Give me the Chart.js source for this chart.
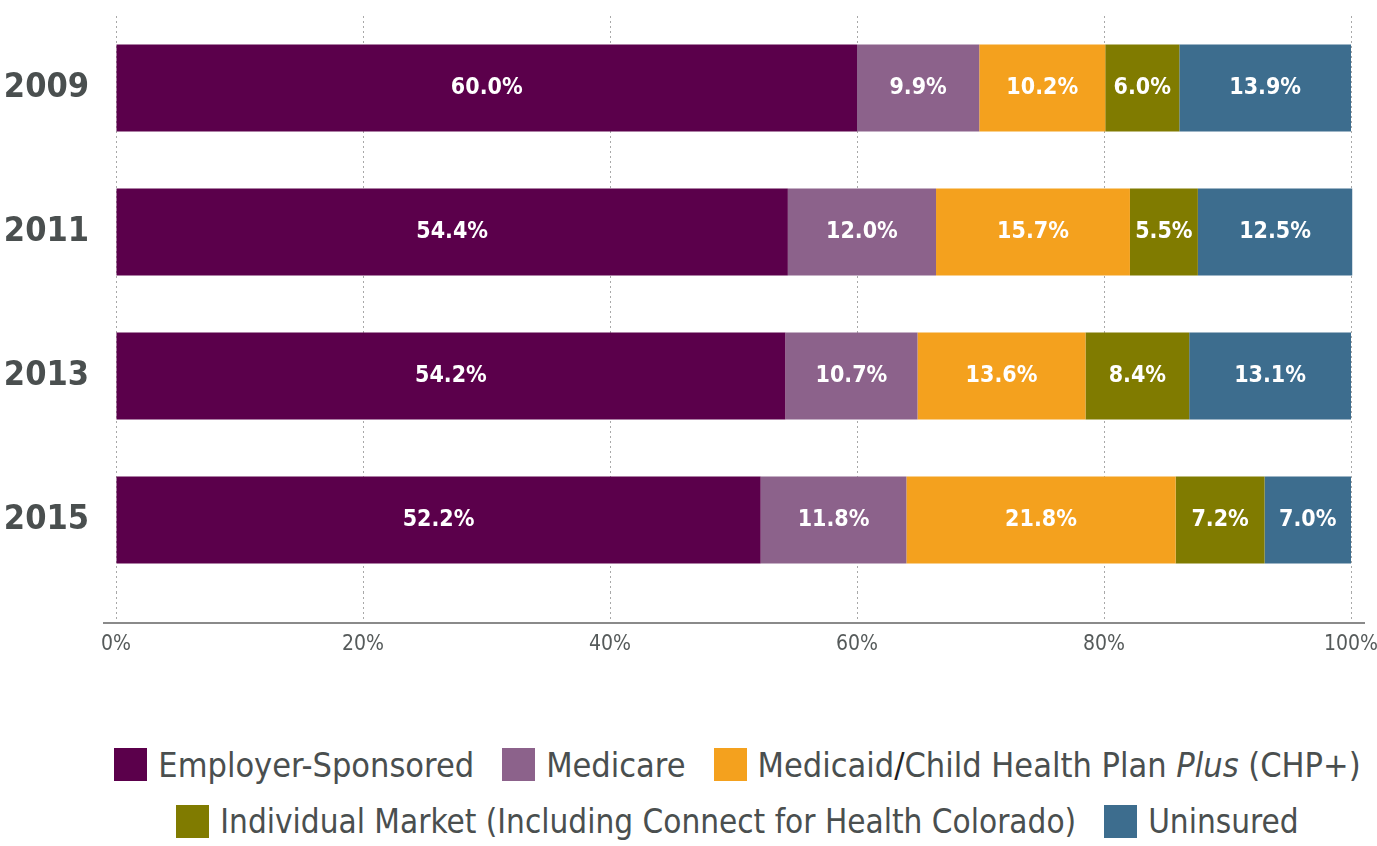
<!DOCTYPE html>
<html>
<head>
<meta charset="utf-8">
<script src="https://cdn.jsdelivr.net/npm/chart.js@4.4.1/dist/chart.umd.min.js"></script>
<style>
  body { margin: 0; background: #fff; font-family: "DejaVu Sans Condensed", sans-serif; }
  #wrap { position: relative; width: 1377px; height: 846px; }
  #legend { position: absolute; left: 0; top: 736px; width: 1377px; box-sizing: border-box; padding-left: 98px; }
  .row { display: flex; justify-content: center; align-items: center; height: 57px; }
  .item { display: flex; align-items: center; margin: 0 14px; color: #4a4f4f; font-size: 34px; white-space: nowrap; }
  .row2 .item { font-size: 33px; }
  .box { width: 33px; height: 33px; margin-right: 11px; }
</style>
</head>
<body>
<div id="wrap">
  <canvas id="chart" width="1377" height="690"></canvas>
  <div id="legend"></div>
</div>
<script>
"use strict"

const years = ['2009', '2011', '2013', '2015'];
const employer = [60.0, 54.4, 54.2, 52.2];
const medicare = [9.9, 12.0, 10.7, 11.8];
const medicaid = [10.2, 15.7, 13.6, 21.8];
const individual = [6.0, 5.5, 8.4, 7.2];
const uninsured = [13.9, 12.5, 13.1, 7.0];
const xTicks = [0, 20, 40, 60, 80, 100];

const seriesNames = [
    'Employer-Sponsored',
    'Medicare',
    'Medicaid/Child Health Plan Plus (CHP+)',
    'Individual Market (Including Connect for Health Colorado)',
    'Uninsured'
];
const colors = ['#5b004b', '#8c628b', '#f4a11e', '#807b00', '#3d6d8e'];
const series = [employer, medicare, medicaid, individual, uninsured];

const FONT = 'DejaVu Sans Condensed';

// white % labels in the middle of each segment
const barLabels = {
    id: 'barLabels',
    afterDatasetsDraw(chart) {
        const ctx = chart.ctx;
        ctx.save();
        ctx.fillStyle = '#ffffff';
        ctx.font = 'bold 23px "' + FONT + '"';
        ctx.textAlign = 'center';
        ctx.textBaseline = 'middle';
        chart.data.datasets.forEach((ds, i) => {
            chart.getDatasetMeta(i).data.forEach((bar, j) => {
                const p = bar.getCenterPoint();
                ctx.fillText(ds.data[j].toFixed(1) + '%', p.x, p.y);
            });
        });
        ctx.restore();
    }
};

// solid x axis line, a bit wider than the plot
const axisLine = {
    id: 'axisLine',
    afterDraw(chart) {
        const ctx = chart.ctx;
        const a = chart.chartArea;
        const y = a.bottom + 31;
        ctx.save();
        ctx.strokeStyle = '#8a8a8a';
        ctx.lineWidth = 2;
        ctx.beginPath();
        ctx.moveTo(a.left - 13, y);
        ctx.lineTo(a.right + 14, y);
        ctx.stroke();
        ctx.restore();
    }
};

new Chart(document.getElementById('chart'), {
    type: 'bar',
    data: {
        labels: years,
        datasets: series.map((d, i) => ({
            label: seriesNames[i],
            data: d,
            backgroundColor: colors[i],
            borderWidth: 0,
            barPercentage: 0.605,
            categoryPercentage: 1,
            clip: 5
        }))
    },
    options: {
        indexAxis: 'y',
        responsive: false,
        animation: false,
        layout: { padding: { top: 16, right: 26, left: 0, bottom: 0 } },
        plugins: {
            legend: { display: false },
            tooltip: { enabled: false }
        },
        scales: {
            x: {
                stacked: true,
                min: 0,
                max: 100,
                afterBuildTicks: (s) => { s.ticks = xTicks.map(v => ({ value: v })); },
                afterFit: (s) => { s.height = 98; s.paddingLeft = 0; s.paddingRight = 0; },
                grid: {
                    color: '#a8a8a8',
                    lineWidth: 1,
                    drawTicks: true,
                    tickLength: 31,
                    tickColor: '#a8a8a8',
                    tickBorderDash: [2, 3]
                },
                border: { display: false, dash: [2, 3] },
                ticks: {
                    padding: 9,
                    color: '#555a5a',
                    font: { family: FONT, size: 21 },
                    callback: (v) => v + '%'
                }
            },
            y: {
                stacked: true,
                afterFit: (s) => { s.width = 116; s.paddingTop = 0; s.paddingBottom = 0; },
                grid: { display: false },
                border: { display: false },
                ticks: {
                    padding: 19,
                    color: '#4a4f4f',
                    font: { family: FONT, size: 34, weight: 'bold' }
                }
            }
        }
    },
    plugins: [barLabels, axisLine]
});

// html legend (needs italic "Plus")
const rows = [[0, 1, 2], [3, 4]];
const legend = document.getElementById('legend');
rows.forEach((r, k) => {
    const row = document.createElement('div');
    row.className = 'row row' + (k + 1);
    r.forEach(i => {
        const item = document.createElement('div');
        item.className = 'item';
        const box = document.createElement('span');
        box.className = 'box';
        box.style.background = colors[i];
        item.appendChild(box);
        const txt = document.createElement('span');
        if (i === 2) {
            txt.innerHTML = 'Medicaid<span style="color:#222">/</span>Child Health Plan <i>Plus</i> (CHP+)';
        } else {
            txt.textContent = seriesNames[i];
        }
        item.appendChild(txt);
        row.appendChild(item);
    });
    legend.appendChild(row);
});
</script>
</body>
</html>
